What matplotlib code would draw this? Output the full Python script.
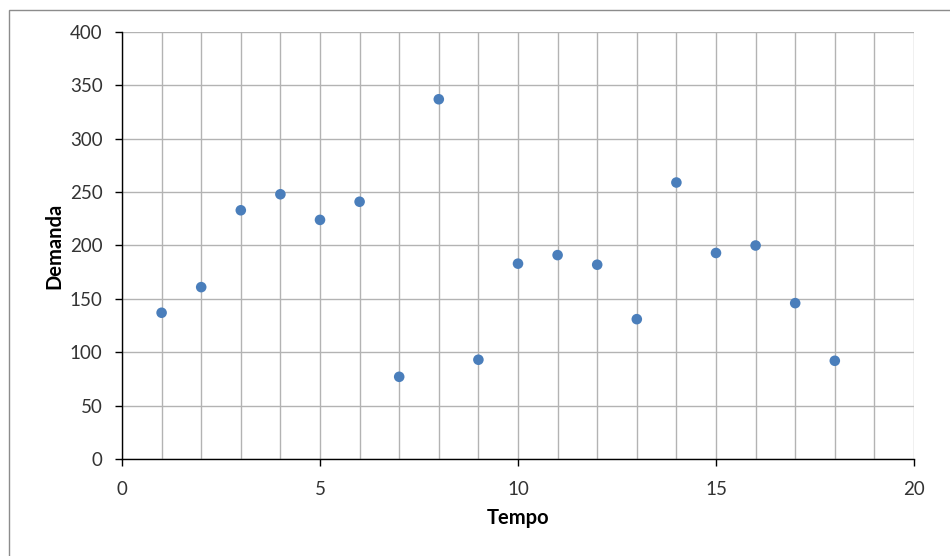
import matplotlib
matplotlib.use("Agg")
import matplotlib.pyplot as plt
from matplotlib.patches import Rectangle

tempo = list(range(1, 19))
demanda = [137, 161, 233, 248, 224, 241, 77, 337, 93, 183, 191, 182, 131, 259, 193, 200, 146, 92]
x_ticks = [0, 5, 10, 15, 20]
y_ticks = [0, 50, 100, 150, 200, 250, 300, 350, 400]

plt.rcParams['font.family'] = ['Lato', 'DejaVu Sans']

fig = plt.figure(figsize=(9.5, 5.56), dpi=100)
fig.patches.append(Rectangle((9/950, -0.1), 1.2, 1 - 10/556 + 0.1, transform=fig.transFigure,
                             fill=False, edgecolor='#8c8c8c', linewidth=1.0))
ax = fig.add_axes([122/950, 1 - 459/556, (914 - 122)/950, (459 - 32)/556])

ax.scatter(tempo, demanda, s=58, color='#4a7ebb', zorder=3, edgecolors='none')

ax.set_xlim(0, 20)
ax.set_ylim(0, 400)
ax.set_xticks(x_ticks)
ax.set_yticks(y_ticks)
ax.set_xticks(range(0, 21), minor=True)
ax.grid(True, which='major', color='#b3b3b3', linewidth=1.0)
ax.grid(True, which='minor', axis='x', color='#b3b3b3', linewidth=1.0)
ax.tick_params(which='minor', length=0)
ax.tick_params(which='major', direction='out', length=5, width=1, colors='black',
               labelsize=13.5, labelcolor='#333333')
ax.tick_params(axis='x', pad=11)
ax.tick_params(axis='y', pad=9)
ax.set_axisbelow(True)
for s in ['top', 'right']:
    ax.spines[s].set_visible(False)
for s in ['left', 'bottom']:
    ax.spines[s].set_color('black')
    ax.spines[s].set_linewidth(1.0)

ax.set_xlabel('Tempo', fontsize=14.5, fontweight='bold', labelpad=7)
ax.set_ylabel('Demanda', fontsize=14.5, fontweight='bold', labelpad=4)

fig.savefig('out.png', dpi=100)
